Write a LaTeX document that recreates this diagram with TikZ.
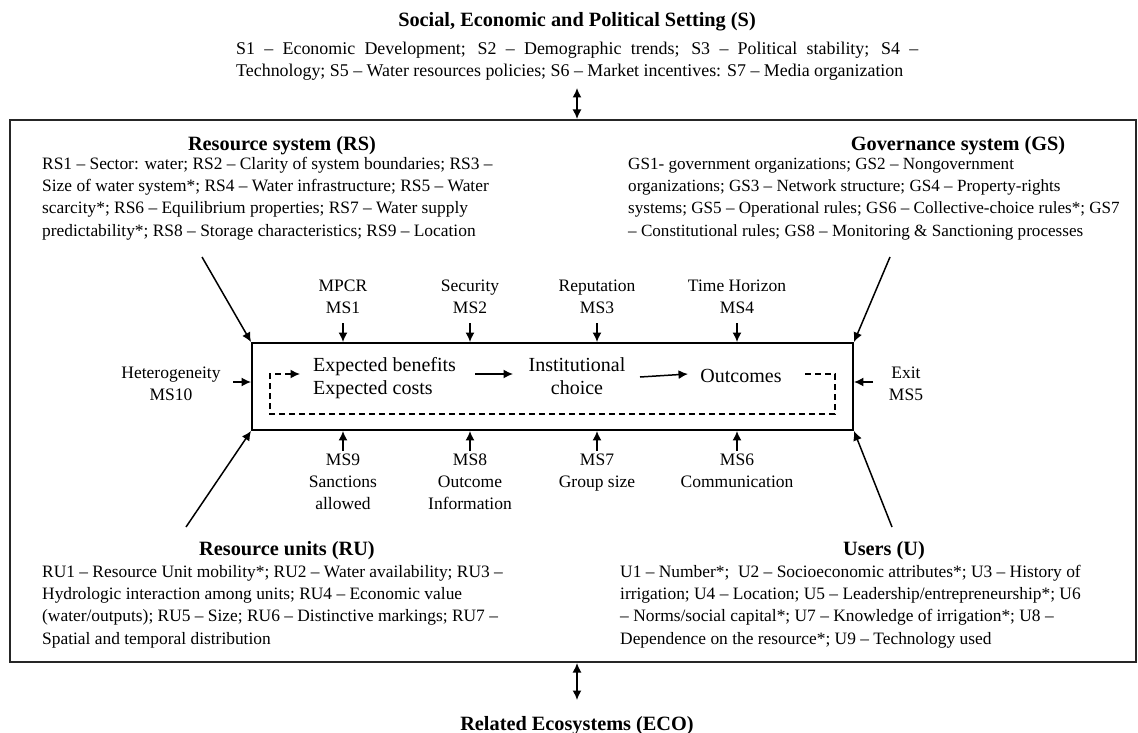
\documentclass[tikz,border=0pt]{standalone}
\usepackage{fontspec}
\setmainfont{Liberation Serif}
\usetikzlibrary{arrows.meta}
\newcommand{\rtxt}{\fontsize{17.4}{22.4}\selectfont}
\newcommand{\btxt}{\fontsize{20.3}{22}\selectfont\bfseries}
\begin{document}
\begin{tikzpicture}[x=1pt,y=-1pt,
  txt/.style={inner sep=0pt, font=\rtxt},
  ttl/.style={inner sep=0pt, font=\btxt},
  lbl/.style={inner sep=0pt, font=\fontsize{17.5}{22}\selectfont},
  coretxt/.style={inner sep=0pt, font=\fontsize{20}{23.5}\selectfont},
  arr/.style={line width=1.5pt, -{Latex[length=9.5pt,width=9pt]}},
  darr/.style={line width=1.5pt, {Latex[length=9.5pt,width=9pt]}-{Latex[length=9.5pt,width=9pt]}},
  frame/.style={draw=black!85, line width=2pt},
  loopline/.style={line width=1.5pt, dash pattern=on 6pt off 4pt, -{Latex[length=9.5pt,width=9pt]}}
]
\useasboundingbox (0,0) rectangle (1138,733);
\fill[white] (0,0) rectangle (1138,733);

% outer frame and core box
\node[frame, inner sep=0pt, minimum width=1126pt, minimum height=542pt] (outer) at (573,391) {};
\node[draw, line width=1.9pt, inner sep=0pt, minimum width=601pt, minimum height=87pt] (core) at (552.5,386.5) {};

% setting
\node[ttl, anchor=base] (sT) at (577,27) {Social, Economic and Political Setting (S)};
\node[txt, anchor=base west] (sX) at (236,55) {\fontsize{17.9}{21.5}\selectfont\begin{tabular}[t]{@{}l@{}}\makebox[682pt][s]{S1 – Economic Development; S2 – Demographic trends; S3 – Political stability; S4 –}\\
Technology; S5 – Water resources policies; S6 – Market incentives: S7 – Media organization\end{tabular}};
\coordinate (sTail) at (577,88);
\draw[darr] (sTail) -- (sTail |- outer.north);

% eco
\node[ttl, anchor=base] (eco) at (577,730) {Related Ecosystems (ECO)};
\coordinate (ecoTail) at (577,700);
\draw[darr] (ecoTail |- outer.south) -- (ecoTail);

% resource system
\node[ttl, anchor=base] (rsT) at (282,150) {Resource system (RS)};
\node[txt, anchor=base west] (rsX) at (42,169) {\begin{tabular}[t]{@{}l@{}}RS1 – Sector: water; RS2 – Clarity of system boundaries; RS3 –\\
Size of water system*; RS4 – Water infrastructure; RS5 – Water\\
scarcity*; RS6 – Equilibrium properties; RS7 – Water supply\\
predictability*; RS8 – Storage characteristics; RS9 – Location\end{tabular}};

% governance system
\node[ttl, anchor=base] (gsT) at (958,150) {Governance system (GS)};
\node[txt, anchor=base west] (gsX) at (628,169) {\fontsize{17.1}{22.4}\selectfont\begin{tabular}[t]{@{}l@{}}GS1- government organizations; GS2 – Nongovernment\\
organizations; GS3 – Network structure; GS4 – Property-rights\\
systems; GS5 – Operational rules; GS6 – Collective-choice rules*; GS7\\
– Constitutional rules; GS8 – Monitoring \& Sanctioning processes\end{tabular}};

% resource units
\node[ttl, anchor=base] (ruT) at (287,555) {Resource units (RU)};
\node[txt, anchor=base west] (ruX) at (42,577) {\begin{tabular}[t]{@{}l@{}}RU1 – Resource Unit mobility*; RU2 – Water availability; RU3 –\\
Hydrologic interaction among units; RU4 – Economic value\\
(water/outputs); RU5 – Size; RU6 – Distinctive markings; RU7 –\\
Spatial and temporal distribution\end{tabular}};

% users
\node[ttl, anchor=base] (uT) at (884,555) {Users (U)};
\node[txt, anchor=base west] (uX) at (620,577) {\begin{tabular}[t]{@{}l@{}}U1 – Number*;~ U2 – Socioeconomic attributes*; U3 – History of\\
irrigation; U4 – Location; U5 – Leadership/entrepreneurship*; U6\\
– Norms/social capital*; U7 – Knowledge of irrigation*; U8 –\\
Dependence on the resource*; U9 – Technology used\end{tabular}};

% diagonal arrows
\coordinate (rsTail) at (202,257);
\coordinate (gsTail) at (890,257);
\coordinate (ruTail) at (186,527);
\coordinate (uTail) at (892,527);
\draw[arr] (rsTail) -- (core.north west);
\draw[arr] (gsTail) -- (core.north east);
\draw[arr] (ruTail) -- (core.south west);
\draw[arr] (uTail) -- (core.south east);

% top MS labels
\node[lbl, anchor=base] (ms1) at (343,291) {\begin{tabular}[t]{@{}c@{}}MPCR\\MS1\end{tabular}};
\node[lbl, anchor=base] (ms2) at (470,291) {\begin{tabular}[t]{@{}c@{}}Security\\MS2\end{tabular}};
\node[lbl, anchor=base] (ms3) at (597,291) {\begin{tabular}[t]{@{}c@{}}Reputation\\MS3\end{tabular}};
\node[lbl, anchor=base] (ms4) at (737,291) {\begin{tabular}[t]{@{}c@{}}Time Horizon\\MS4\end{tabular}};
\foreach \n/\x in {1/343,2/470,3/597,4/737}{
  \coordinate (t\n) at (\x,323);
  \draw[arr] (t\n) -- (t\n |- core.north);
}

% bottom MS labels
\node[lbl, anchor=base] (ms9) at (343,465) {\begin{tabular}[t]{@{}c@{}}MS9\\Sanctions\\allowed\end{tabular}};
\node[lbl, anchor=base] (ms8) at (470,465) {\begin{tabular}[t]{@{}c@{}}MS8\\Outcome\\Information\end{tabular}};
\node[lbl, anchor=base] (ms7) at (597,465) {\begin{tabular}[t]{@{}c@{}}MS7\\Group size\end{tabular}};
\node[lbl, anchor=base] (ms6) at (737,465) {\begin{tabular}[t]{@{}c@{}}MS6\\Communication\end{tabular}};
\foreach \n/\x in {9/343,8/470,7/597,6/737}{
  \coordinate (b\n) at (\x,451);
  \draw[arr] (b\n) -- (b\n |- core.south);
}

% side labels
\node[lbl, anchor=base] (ms10) at (171,378) {\begin{tabular}[t]{@{}c@{}}Heterogeneity\\MS10\end{tabular}};
\coordinate (hTail) at (233,382);
\draw[arr] (hTail) -- (hTail -| core.west);
\node[lbl, anchor=base] (ms5) at (906,378) {\begin{tabular}[t]{@{}c@{}}Exit\\MS5\end{tabular}};
\coordinate (eTail) at (873,382);
\draw[arr] (eTail) -- (eTail -| core.east);

% core contents
\node[coretxt, anchor=base west] (exp) at (313,371) {\begin{tabular}[t]{@{}l@{}}Expected benefits\\Expected costs\end{tabular}};
\node[coretxt, anchor=base] (inst) at (577,371) {\begin{tabular}[t]{@{}c@{}}Institutional\\choice\end{tabular}};
\node[coretxt, anchor=base] (outc) at (741,382) {Outcomes};
\coordinate (a1s) at (475,374);
\coordinate (a1e) at (513,374);
\coordinate (a2s) at (640,377);
\coordinate (a2e) at (688,374);
\draw[arr] (a1s) -- (a1e);
\draw[arr] (a2s) -- (a2e);
\coordinate (d0) at (805,374);
\coordinate (d1) at (835,374);
\coordinate (d2) at (835,414);
\coordinate (d3) at (270,414);
\coordinate (d4) at (270,374);
\coordinate (d5) at (300,374);
\draw[loopline] (d0) -- (d1) -- (d2) -- (d3) -- (d4) -- (d5);
\end{tikzpicture}
\end{document}
